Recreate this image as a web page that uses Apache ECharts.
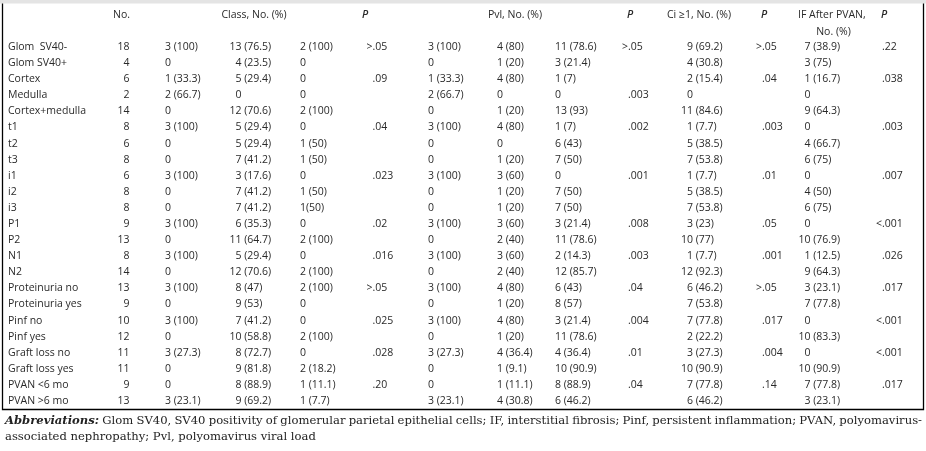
<!DOCTYPE html>
<html><head><meta charset="utf-8">
<script src="https://cdn.jsdelivr.net/npm/echarts@6/dist/echarts.min.js"></script>
<style>html,body{margin:0;padding:0;background:#fff}#c{width:926px;height:451px}</style>
</head><body><div id="c"></div>
<script>
const rows = ['Glom  SV40-','Glom SV40+','Cortex','Medulla','Cortex+medulla','t1','t2','t3','i1','i2','i3','P1','P2','N1','N2','Proteinuria no','Proteinuria yes','Pinf no','Pinf yes','Graft loss no','Graft loss yes','PVAN <6 mo','PVAN >6 mo'];
const noCounts = [18,4,6,2,14,8,6,8,6,8,8,9,13,8,14,13,9,10,12,11,11,9,13];
const classA = ['3 (100)','0','1 (33.3)','2 (66.7)','0','3 (100)','0','0','3 (100)','0','0','3 (100)','0','3 (100)','0','3 (100)','0','3 (100)','0','3 (27.3)','0','0','3 (23.1)'];
const classB = ['13 (76.5)','4 (23.5)','5 (29.4)','0','12 (70.6)','5 (29.4)','5 (29.4)','7 (41.2)','3 (17.6)','7 (41.2)','7 (41.2)','6 (35.3)','11 (64.7)','5 (29.4)','12 (70.6)','8 (47)','9 (53)','7 (41.2)','10 (58.8)','8 (72.7)','9 (81.8)','8 (88.9)','9 (69.2)'];
const classC = ['2 (100)','0','0','0','2 (100)','0','1 (50)','1 (50)','0','1 (50)','1(50)','0','2 (100)','0','2 (100)','2 (100)','0','0','2 (100)','0','2 (18.2)','1 (11.1)','1 (7.7)'];
const classP = ['>.05','','.09','','','.04','','','.023','','','.02','','.016','','>.05','','.025','','.028','','.20',''];
const pvlA = ['3 (100)','0','1 (33.3)','2 (66.7)','0','3 (100)','0','0','3 (100)','0','0','3 (100)','0','3 (100)','0','3 (100)','0','3 (100)','0','3 (27.3)','0','0','3 (23.1)'];
const pvlB = ['4 (80)','1 (20)','4 (80)','0','1 (20)','4 (80)','0','1 (20)','3 (60)','1 (20)','1 (20)','3 (60)','2 (40)','3 (60)','2 (40)','4 (80)','1 (20)','4 (80)','1 (20)','4 (36.4)','1 (9.1)','1 (11.1)','4 (30.8)'];
const pvlC = ['11 (78.6)','3 (21.4)','1 (7)','0','13 (93)','1 (7)','6 (43)','7 (50)','0','7 (50)','7 (50)','3 (21.4)','11 (78.6)','2 (14.3)','12 (85.7)','6 (43)','8 (57)','3 (21.4)','11 (78.6)','4 (36.4)','10 (90.9)','8 (88.9)','6 (46.2)'];
const pvlP = ['>.05','','','.003','','.002','','','.001','','','.008','','.003','','.04','','.004','','.01','','.04',''];
const ciVals = ['9 (69.2)','4 (30.8)','2 (15.4)','0','11 (84.6)','1 (7.7)','5 (38.5)','7 (53.8)','1 (7.7)','5 (38.5)','7 (53.8)','3 (23)','10 (77)','1 (7.7)','12 (92.3)','6 (46.2)','7 (53.8)','7 (77.8)','2 (22.2)','3 (27.3)','10 (90.9)','7 (77.8)','6 (46.2)'];
const ciP = ['>.05','','.04','','','.003','','','.01','','','.05','','.001','','>.05','','.017','','.004','','.14',''];
const ifVals = ['7 (38.9)','3 (75)','1 (16.7)','0','9 (64.3)','0','4 (66.7)','6 (75)','0','4 (50)','6 (75)','0','10 (76.9)','1 (12.5)','9 (64.3)','3 (23.1)','7 (77.8)','0','10 (83.3)','0','10 (90.9)','7 (77.8)','3 (23.1)'];
const ifP = ['.22','','.038','','','.003','','','.007','','','<.001','','.026','','.017','','<.001','','<.001','','.017',''];
const headers1 = ['No.','Class, No. (%)','P','Pvl, No. (%)','P','Ci ≥1, No. (%)','P','IF After PVAN,','P'];
const headers2 = ['No. (%)'];
const footLead = 'Abbreviations:';
const footLine1 = 'Glom SV40, SV40 positivity of glomerular parietal epithelial cells; IF, interstitial fibrosis; Pinf, persistent inflammation; PVAN, polyomavirus-';
const footLine2 = 'associated nephropathy; Pvl, polyomavirus viral load';

const FONT = '10.5px "Open Sans"';
const INK = '#2a2a2a';
const columns = [
  {arr: rows, x: 8, mode: 'left'},
  {arr: noCounts.map(String), x: 129.5, mode: 'right'},
  {arr: classA, x: 165, mode: 'left'},
  {arr: classB, x: 241.5, mode: 'count'},
  {arr: classC, x: 300, mode: 'left'},
  {arr: classP, x: 372.5, mode: 'dec'},
  {arr: pvlA, x: 428, mode: 'left'},
  {arr: pvlB, x: 497, mode: 'left'},
  {arr: pvlC, x: 555, mode: 'left'},
  {arr: pvlP, x: 628, mode: 'dec'},
  {arr: ciVals, x: 693, mode: 'count'},
  {arr: ciP, x: 762, mode: 'dec'},
  {arr: ifVals, x: 810.5, mode: 'count'},
  {arr: ifP, x: 882, mode: 'dec'}
];
function split(s, mode) {
  if (mode === 'count') { const k = s.indexOf(' '); return k < 0 ? [s, ''] : [s.slice(0, k), s.slice(k)]; }
  const k = s.indexOf('.'); return k <= 0 ? ['', s] : [s.slice(0, k), s.slice(k)];
}
function txt(x, y, text, align) {
  return {type: 'text', x: x, y: y, style: {text: text, textAlign: align, textVerticalAlign: 'middle', font: FONT, fill: INK}};
}
const series = columns.map(col => ({
  type: 'custom',
  coordinateSystem: 'cartesian2d',
  silent: true,
  data: col.arr.map((t, i) => [col.x, i]),
  encode: {x: 0, y: 1},
  renderItem: function (params, api) {
    const t = col.arr[params.dataIndex];
    if (!t) return null;
    const p = api.coord([api.value(0), api.value(1)]);
    if (col.mode === 'left') return txt(p[0], p[1], t, 'left');
    if (col.mode === 'right') return txt(p[0], p[1], t, 'right');
    const parts = split(t, col.mode);
    const kids = [];
    if (parts[0]) kids.push(txt(p[0], p[1], parts[0], 'right'));
    if (parts[1]) kids.push(txt(p[0], p[1], parts[1], 'left'));
    return {type: 'group', children: kids};
  }
}));

const hx = [[121.5,'center'],[254,'center'],[365,'center'],[515,'center'],[630,'center'],[699,'center'],[764,'center'],[798,'left'],[884,'center']];
const graphic = [
  {type: 'rect', left: 0, top: 0, shape: {width: 926, height: 3.5}, style: {fill: '#e4e4e4'}},
  {type: 'polyline', shape: {points: [[2.5, 3.5], [2.5, 409.5], [923.5, 409.5], [923.5, 3.5]]}, style: {stroke: '#000', lineWidth: 1.3, fill: null}}
];
headers1.forEach((h, k) => {
  const isP = h === 'P';
  graphic.push({type: 'text', x: hx[k][0], y: 15, style: {text: h, textAlign: hx[k][1], textVerticalAlign: 'middle', font: (isP ? 'italic 600 ' : '') + FONT, fill: INK}});
});
graphic.push({type: 'text', x: 833.5, y: 32, style: {text: headers2[0], textAlign: 'center', textVerticalAlign: 'middle', font: FONT, fill: INK}});

// footnote: first line justified between left and right edges
const FF = '11.6px "DejaVu Serif"';
const FB = 'italic bold 11.6px "DejaVu Serif"';
const mctx = document.createElement('canvas').getContext('2d');
function mw(s, f) { mctx.font = f; return mctx.measureText(s).width; }
const words = [{t: footLead, f: FB}].concat(footLine1.split(' ').map(w => ({t: w, f: FF})));
const x0 = 5, x1 = 922;
const total = words.reduce((a, w) => a + mw(w.t, w.f), 0);
const gap = (x1 - x0 - total) / (words.length - 1);
let cx = x0;
words.forEach(w => {
  graphic.push({type: 'text', x: cx, y: 421, style: {text: w.t, textVerticalAlign: 'middle', font: w.f, fill: '#222'}});
  cx += mw(w.t, w.f) + gap;
});
graphic.push({type: 'text', x: 5, y: 437, style: {text: footLine2, textVerticalAlign: 'middle', font: FF, fill: '#222'}});

const chart = echarts.init(document.getElementById('c'), null, {renderer: 'canvas'});
chart.setOption({
  animation: false,
  grid: {left: 0, right: 0, top: 38.95, bottom: 41.95},
  xAxis: {type: 'value', min: 0, max: 926, show: false},
  yAxis: {type: 'category', data: rows, inverse: true, show: false},
  graphic: graphic,
  series: series
});
</script></body></html>
